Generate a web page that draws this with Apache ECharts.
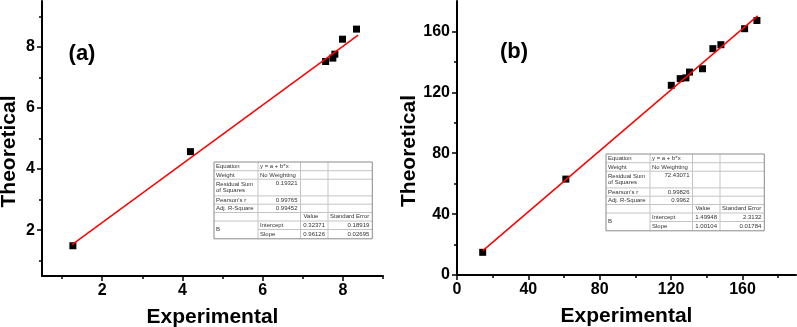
<!DOCTYPE html>
<html>
<head>
<meta charset="utf-8">
<script src="https://cdn.jsdelivr.net/npm/echarts@6/dist/echarts.min.js"></script>
<style>
  html, body { margin: 0; padding: 0; background: #fff; }
  #chart { width: 797px; height: 327px; }
</style>
</head>
<body>
<div id="chart"></div>
<script>
// panel (a)
const expA = [1.27, 4.2, 7.57, 7.75, 7.8, 7.99, 8.34]
const theoA = [1.49, 4.57, 7.52, 7.63, 7.76, 8.25, 8.58]
const fitA = [[1.25, 1.53], [8.38, 8.38]]
const xTicksA = [2, 4, 6, 8]
const xMinorA = [1, 3, 5, 7, 9]
const yTicksA = [2, 4, 6, 8]
const yMinorA = [1, 3, 5, 7, 9]

// panel (b)
const expB = [14.4, 61, 120.1, 125.1, 128.3, 130.3, 137.6, 143.4, 147.9, 161.2, 168.1]
const theoB = [14.9, 63, 124.6, 129, 129.5, 133.3, 135.5, 148.7, 151.3, 161.8, 167.2]
const fitB = [[14.5, 16.0], [168.5, 170.2]]
const xTicksB = [0, 40, 80, 120, 160]
const xMinorB = [20, 60, 100, 140, 180]
const yTicksB = [0, 40, 80, 120, 160]
const yMinorB = [20, 60, 100, 140]

// fit report tables
const statsA = [['Equation', 'y = a + b*x'], ['Weight', 'No Weighting'], ['Residual Sum\nof Squares', '0.19321'], ["Pearson's r", '0.99765'], ['Adj. R-Square', '0.99452']]
const paramsA = [['Intercept', '0.32371', '0.18919'], ['Slope', '0.96126', '0.02695']]
const statsB = [['Equation', 'y = a + b*x'], ['Weight', 'No Weighting'], ['Residual Sum\nof Squares', '72.43071'], ["Pearson's r", '0.99826'], ['Adj. R-Square', '0.9962']]
const paramsB = [['Intercept', '1.49948', '2.3132'], ['Slope', '1.00104', '0.01784']]
const paramHead = ['Value', 'Standard Error']

const font = '"Liberation Sans", Arial, sans-serif'

const zip = (xs, ys) => xs.map((x, i) => [x, ys[i]])

const majorAxis = (dim, gi, min, max, ticks, name, gap, pad) => ({
  type: 'value',
  gridIndex: gi,
  position: dim === 'x' ? 'bottom' : 'left',
  min: min,
  max: max,
  name: name,
  nameLocation: 'middle',
  nameGap: gap,
  nameTextStyle: {
    fontSize: 21, fontWeight: 'bold', color: '#000', fontFamily: font,
    padding: pad || 0,
  },
  axisLine: { show: true, onZero: false, lineStyle: { color: '#000', width: 2 } },
  axisTick: { show: true, customValues: ticks, length: 5, lineStyle: { color: '#000', width: 1.5 } },
  axisLabel: { customValues: ticks, fontSize: 16, fontWeight: 'bold', color: '#000', fontFamily: font, margin: 7 },
  splitLine: { show: false },
})

const minorAxis = (dim, gi, min, max, ticks) => ({
  type: 'value',
  gridIndex: gi,
  position: dim === 'x' ? 'bottom' : 'left',
  min: min,
  max: max,
  axisLine: { show: false, onZero: false },
  axisTick: { show: true, customValues: ticks, length: 3, lineStyle: { color: '#000', width: 1.5 } },
  axisLabel: { show: false },
  splitLine: { show: false },
})

// Origin style fit report, drawn as graphic rects/lines/texts
const colW = [44, 42.5, 27.5, 44.3]
const rowH = [8.7, 8.5, 16.7, 8.3, 8.3, 8.5, 8.5, 9.3]

function buildTable(left, top, stats, params) {
  const els = []
  const W = colW.reduce((a, b) => a + b, 0)
  const H = rowH.reduce((a, b) => a + b, 0)
  const cx = [left]
  colW.forEach(w => cx.push(cx[cx.length - 1] + w))
  const ry = [top]
  rowH.forEach(h => ry.push(ry[ry.length - 1] + h))
  const inner = { stroke: '#c4c4c4', lineWidth: 1 }
  const txt = (x, y, text, align, vAlign) => ({
    type: 'text', x: x, y: y, silent: true,
    style: { text: text, fill: '#333', font: '6px ' + font, align: align || 'left', verticalAlign: vAlign || 'middle', lineHeight: 6.5 },
  })

  els.push({ type: 'rect', shape: { x: left, y: top, width: W, height: H }, style: { fill: '#fff', stroke: null } })
  // horizontal lines
  for (let r = 1; r < rowH.length; r++) {
    const x0 = r === 7 ? cx[1] : left
    els.push({ type: 'line', shape: { x1: x0, y1: ry[r], x2: left + W, y2: ry[r] }, style: inner })
  }
  // vertical lines
  for (let c = 1; c < colW.length; c++) {
    els.push({ type: 'line', shape: { x1: cx[c], y1: top, x2: cx[c], y2: top + H }, style: inner })
  }
  els.push({ type: 'rect', shape: { x: left, y: top, width: W, height: H }, style: { fill: null, stroke: '#8a8a8a', lineWidth: 1 } })

  stats.forEach((row, i) => {
    const mid = (ry[i] + ry[i + 1]) / 2
    els.push(txt(cx[0] + 2, mid, row[0]))
    if (i < 2) {
      els.push(txt(cx[1] + 2, mid, row[1]))
    } else if (i === 2) {
      els.push(txt(cx[2] - 3, ry[i] + 4.5, row[1], 'right'))
    } else {
      els.push(txt(cx[2] - 3, mid, row[1], 'right'))
    }
  })
  const hm = (ry[5] + ry[6]) / 2
  els.push(txt(cx[2] + 3, hm, paramHead[0]))
  els.push(txt(cx[3] + 2, hm, paramHead[1]))
  els.push(txt(cx[0] + 2, ry[7], 'B'))
  params.forEach((row, i) => {
    const mid = (ry[6 + i] + ry[7 + i]) / 2
    els.push(txt(cx[1] + 2, mid, row[0]))
    els.push(txt(cx[3] - 3, mid, row[1], 'right'))
    els.push(txt(cx[4] - 3, mid, row[2], 'right'))
  })
  return els
}

const panelLabel = (x, y, text) => ({
  type: 'text', x: x, y: y, silent: true,
  style: { text: text, fill: '#000', font: 'bold 22px ' + font, align: 'center', verticalAlign: 'middle' },
})

const chart = echarts.init(document.getElementById('chart'))

const scatterStyle = { color: '#000', opacity: 1 }
const fitStyle = { color: '#ff0000', width: 1.5 }

chart.setOption({
  animation: false,
  backgroundColor: '#fff',
  grid: [
    { left: 42, top: 1, width: 341, height: 275, containLabel: false, outerBoundsMode: 'none' },
    { left: 457, top: 1, width: 339, height: 274, containLabel: false, outerBoundsMode: 'none' },
  ],
  xAxis: [
    majorAxis('x', 0, 0.5, 9, xTicksA, 'Experimental', 31),
    minorAxis('x', 0, 0.5, 9, xMinorA),
    majorAxis('x', 1, 0, 190, xTicksB, 'Experimental', 31),
    minorAxis('x', 1, 0, 190, xMinorB),
  ],
  yAxis: [
    majorAxis('y', 0, 0.5, 9.5, yTicksA, 'Theoretical', 22, [0, 26, 0, 0]),
    minorAxis('y', 0, 0.5, 9.5, yMinorA),
    majorAxis('y', 1, 0, 180, yTicksB, 'Theoretical', 37, [0, 26, 0, 0]),
    minorAxis('y', 1, 0, 180, yMinorB),
  ],
  series: [
    {
      type: 'scatter', xAxisIndex: 0, yAxisIndex: 0,
      symbol: 'rect', symbolSize: 7, itemStyle: scatterStyle,
      data: zip(expA, theoA),
    },
    {
      type: 'line', xAxisIndex: 0, yAxisIndex: 0, showSymbol: false,
      lineStyle: fitStyle, data: fitA, z: 3,
    },
    {
      type: 'scatter', xAxisIndex: 2, yAxisIndex: 2,
      symbol: 'rect', symbolSize: 7, itemStyle: scatterStyle,
      data: zip(expB, theoB),
    },
    {
      type: 'line', xAxisIndex: 2, yAxisIndex: 2, showSymbol: false,
      lineStyle: fitStyle, data: fitB, z: 3,
    },
  ],
  graphic: [
    panelLabel(82, 54, '(a)'),
    panelLabel(514, 52, '(b)'),
    ...buildTable(214, 162, statsA, paramsA),
    ...buildTable(606, 154, statsB, paramsB),
  ],
})
</script>
</body>
</html>
